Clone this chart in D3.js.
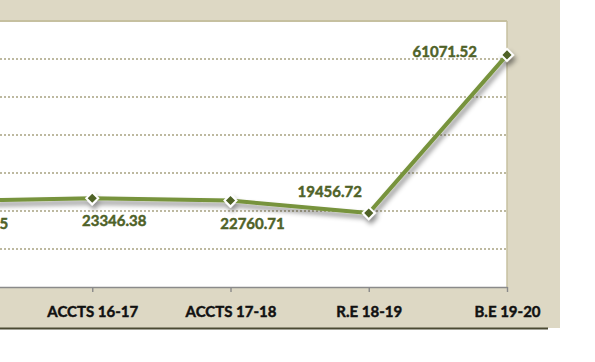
<!DOCTYPE html>
<html>
<head>
<meta charset="utf-8">
<script src="https://cdn.jsdelivr.net/npm/d3@7"></script>
<style>
  body { margin: 0; background: #fff; }
  svg { display: block; }
</style>
</head>
<body>
<svg id="chart" width="595" height="362"></svg>
<script>
// data (first category sits outside the cropped view)
const categories = ['ACCTS 15-16', 'ACCTS 16-17', 'ACCTS 17-18', 'R.E 18-19', 'B.E 19-20'];
const values = [22635.45, 23346.38, 22760.71, 19456.72, 61071.52];
const valueLabels = ['22635.45', '23346.38', '22760.71', '19456.72', '61071.52'];
const labelPlacement = ['below', 'below', 'below', 'above', 'left'];
const yTicks = [0, 10000, 20000, 30000, 40000, 50000, 60000, 70000];

const svg = d3.select('#chart');
const plotTop = 21, plotBottom = 287, plotRight = 507;

// Outer beige chart area
svg.append('rect')
  .attr('x', 0).attr('y', 0)
  .attr('width', 560).attr('height', 328)
  .attr('fill', '#ddd8c4');
svg.append('line')
  .attr('x1', 0).attr('x2', 548)
  .attr('y1', 328.5).attr('y2', 328.5)
  .attr('stroke', '#4b4a33').attr('stroke-width', 2);

let xScale = d3.scalePoint()
  .domain(categories)
  .range([-46, plotRight]);

let yScale = d3.scaleLinear()
  .domain([0, 70000])
  .range([plotBottom, plotTop]);

// white plot area
svg.append('rect')
  .attr('x', -10).attr('y', plotTop)
  .attr('width', plotRight + 10).attr('height', plotBottom - plotTop)
  .attr('fill', '#ffffff');
svg.append('line')
  .attr('x1', 0).attr('x2', plotRight)
  .attr('y1', plotTop).attr('y2', plotTop)
  .attr('stroke', '#c6c0a0').attr('stroke-width', 2);
svg.append('line')
  .attr('x1', plotRight).attr('x2', plotRight)
  .attr('y1', plotTop).attr('y2', plotBottom)
  .attr('stroke', '#c6c0a0').attr('stroke-width', 1.5);

// dotted gridlines
svg.append('g')
  .selectAll('line')
  .data(yTicks.filter(t => t > 0 && t < 70000))
  .enter()
  .append('line')
    .attr('x1', 0).attr('x2', plotRight - 1)
    .attr('y1', d => yScale(d)).attr('y2', d => yScale(d))
    .attr('stroke', '#bdb9a0')
    .attr('stroke-width', 2)
    .attr('stroke-dasharray', '2,2');

// x axis (the first category is outside the visible crop)
let xAxis = d3.axisBottom(xScale)
  .tickValues(categories.slice(1))
  .tickSizeInner(5).tickSizeOuter(0).tickPadding(14);
let ax = svg.append('g')
  .attr('transform', `translate(0, ${plotBottom})`)
  .call(xAxis);
ax.select('.domain').attr('stroke', '#8a8a8a').attr('stroke-width', 1.6);
ax.selectAll('.tick line').attr('stroke', '#8a8a8a').attr('stroke-width', 1.4);
ax.selectAll('.tick text')
  .attr('fill', '#111')
  .attr('stroke', '#111')
  .attr('stroke-width', 0.45)
  .style('font-family', 'Lato, sans-serif')
  .style('font-weight', 'bold')
  .style('font-size', '15px');

// shadow filter
let defs = svg.append('defs');
let f = defs.append('filter').attr('id', 'shadow')
  .attr('x', '-20%').attr('y', '-20%').attr('width', '140%').attr('height', '140%');
f.append('feDropShadow')
  .attr('dx', 2).attr('dy', 4).attr('stdDeviation', 2.4)
  .attr('flood-color', '#000').attr('flood-opacity', 0.45);

let series = categories.map((c, i) => ({cat: c, value: values[i], label: valueLabels[i], pos: labelPlacement[i]}));

let g = svg.append('g').attr('filter', 'url(#shadow)');
let line = d3.line()
  .x(d => xScale(d.cat))
  .y(d => yScale(d.value));
g.append('path')
  .datum(series)
  .attr('d', line)
  .attr('fill', 'none')
  .attr('stroke', '#77933c')
  .attr('stroke-width', 4)
  .attr('stroke-linejoin', 'round');

g.selectAll('path.marker')
  .data(series)
  .enter()
  .append('path')
    .attr('class', 'marker')
    .attr('d', d3.symbol().type(d3.symbolSquare).size(72))
    .attr('transform', d => `translate(${xScale(d.cat)}, ${yScale(d.value)}) rotate(45)`)
    .attr('fill', '#4f6228')
    .attr('stroke', '#ffffff')
    .attr('stroke-width', 2);

// value labels
svg.append('g')
  .selectAll('text')
  .data(series)
  .enter()
  .append('text')
    .attr('x', d => {
      let x = xScale(d.cat);
      if (d.pos === 'below') return x + 22;
      if (d.pos === 'above') return x - 39;
      return x - 30;
    })
    .attr('y', d => {
      let y = yScale(d.value);
      if (d.pos === 'below') return y + 28;
      if (d.pos === 'above') return y - 16;
      return y + 2;
    })
    .attr('text-anchor', d => d.pos === 'left' ? 'end' : 'middle')
    .attr('fill', '#4f6228')
    .attr('stroke', '#4f6228')
    .attr('stroke-width', 0.45)
    .style('font-family', 'Lato, sans-serif')
    .style('font-weight', 'bold')
    .style('font-size', '15px')
    .text(d => d.label);
</script>
</body>
</html>
